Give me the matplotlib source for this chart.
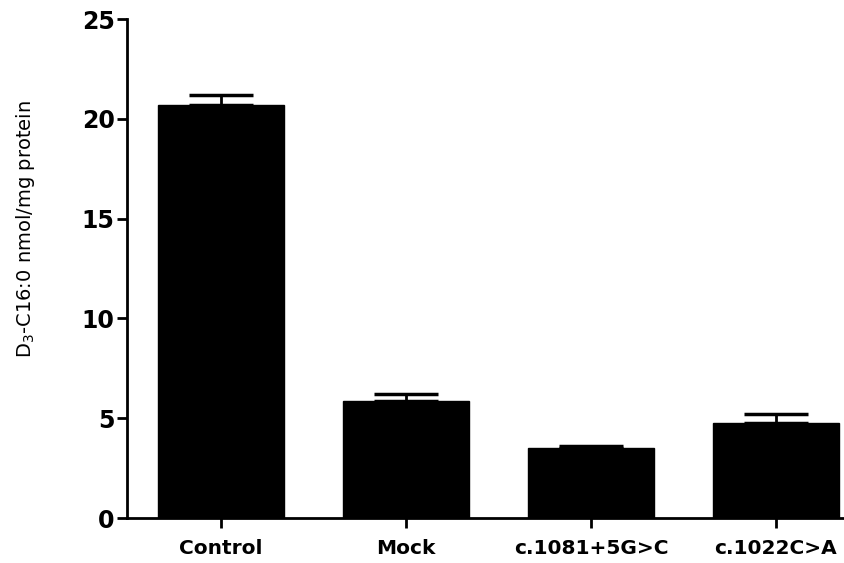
import matplotlib
matplotlib.use("Agg")
import matplotlib.pyplot as plt

categories = ["Control", "Mock", "c.1081+5G>C", "c.1022C>A"]
values = [20.7, 5.85, 3.5, 4.75]
errors = [0.5, 0.35, 0.1, 0.45]
yticks = [0, 5, 10, 15, 20, 25]

fig = plt.figure(figsize=(8.44, 5.63), dpi=100)
ax = fig.add_axes([0.1505, 0.0799, 0.8495, 0.8863])

x = list(range(len(categories)))
ax.bar(x, values, width=0.68, color="black", edgecolor="black", zorder=2)
ax.errorbar(x, values, yerr=[[0]*len(errors), errors], fmt="none",
            ecolor="black", elinewidth=2, capsize=23, capthick=2.5, zorder=1)

ax.set_xlim(-0.508, 3.368)
ax.set_ylim(0, 25)
ax.set_yticks(yticks)
ax.set_yticklabels([str(t) for t in yticks], fontsize=17, fontweight="bold")
ax.set_xticks(x)
ax.set_xticklabels(categories, fontsize=14.5, fontweight="bold")

for s in ["top", "right"]:
    ax.spines[s].set_visible(False)
for s in ["left", "bottom"]:
    ax.spines[s].set_linewidth(2)
ax.tick_params(axis="both", width=2, length=7, direction="out")
ax.tick_params(axis="y", pad=2)
ax.tick_params(axis="x", pad=8)

ax.set_ylabel(r"D$_3$-C16:0 nmol/mg protein", fontsize=14)
ax.yaxis.set_label_coords(-0.125, 0.58)

fig.savefig("out.png", dpi=100)
